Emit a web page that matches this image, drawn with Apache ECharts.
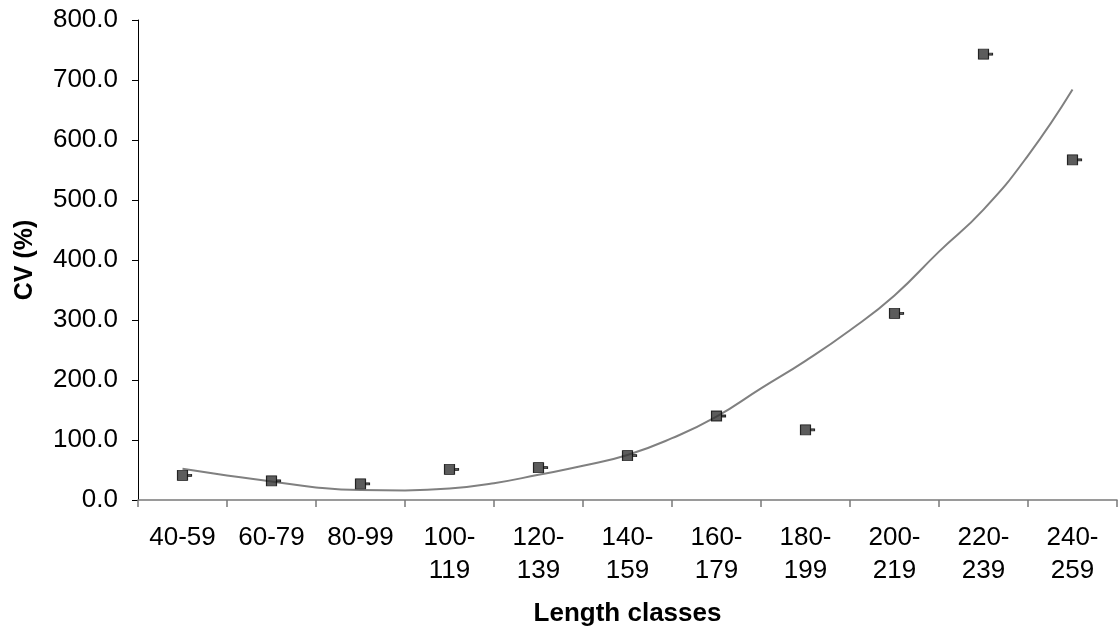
<!DOCTYPE html>
<html>
<head>
<meta charset="utf-8">
<script src="https://cdn.jsdelivr.net/npm/echarts@6/dist/echarts.min.js"></script>
<style>
  html, body { margin: 0; padding: 0; background: #fff; }
  #chart { width: 1118px; height: 632px; }
</style>
</head>
<body>
<div id="chart"></div>
<script>
// Length classes on the x axis
const lengthClasses = ['40-59', '60-79', '80-99', '100-\n119', '120-\n139', '140-\n159',
  '160-\n179', '180-\n199', '200-\n219', '220-\n239', '240-\n259'];

// Coefficient of variation (%) per length class
const cvValues = [41, 32, 27, 51, 54, 74, 140, 117, 311, 743, 567];

// Fitted trend curve, sampled every half class (class index, CV %)
const trendX = [0, 0.5, 1, 1.5, 2, 2.5, 3, 3.5, 4, 4.5, 5, 5.5, 6, 6.5, 7, 7.5, 8, 8.5, 9, 9.5, 10];
const trendY = [52, 41, 31, 21, 16.5, 16, 19, 28, 42, 57, 75, 103, 139, 186, 232, 283, 341, 414, 484, 574, 684];

// Y-axis ticks
const yMin = 0, yMax = 800, yStep = 100;

const FONT = '"Liberation Sans", Arial, sans-serif';

const chart = echarts.init(document.getElementById('chart'), null, { renderer: 'canvas' });

chart.setOption({
  animation: false,
  backgroundColor: '#ffffff',
  grid: { left: 138, right: 1, top: 20, bottom: 128, containLabel: false },
  xAxis: [
    {
      type: 'category',
      data: lengthClasses,
      boundaryGap: true,
      name: 'Length classes',
      nameLocation: 'middle',
      nameGap: 101,
      nameTextStyle: { fontFamily: FONT, fontSize: 26, fontWeight: 'bold', color: '#000' },
      axisLine: { onZero: false, lineStyle: { color: '#7a7a7a', width: 1.5 } },
      axisTick: { show: true, length: 7, alignWithLabel: false, lineStyle: { color: '#7a7a7a', width: 1.5 } },
      axisLabel: {
        interval: 0, margin: 21, color: '#000',
        fontFamily: FONT, fontSize: 26, lineHeight: 33
      },
      splitLine: { show: false }
    },
    {
      type: 'value',
      min: -0.5,
      max: 10.5,
      show: false,
      axisLine: { onZero: false }
    }
  ],
  yAxis: {
    type: 'value',
    min: yMin,
    max: yMax,
    interval: yStep,
    name: 'CV (%)',
    nameLocation: 'middle',
    nameGap: 100,
    nameTextStyle: { fontFamily: FONT, fontSize: 25, fontWeight: 'bold', color: '#000' },
    axisLine: { show: true, onZero: false, lineStyle: { color: '#000', width: 1 } },
    axisTick: { show: true, length: 6, lineStyle: { color: '#000' } },
    axisLabel: {
      margin: 20, color: '#000', fontFamily: FONT, fontSize: 26,
      formatter: v => v.toFixed(1)
    },
    splitLine: { show: false }
  },
  series: [
    {
      name: 'Trend',
      type: 'line',
      xAxisIndex: 1,
      data: trendX.map((x, i) => [x, trendY[i]]),
      smooth: true,
      showSymbol: false,
      symbol: 'none',
      lineStyle: { color: '#808080', width: 2 },
      z: 2
    },
    {
      name: 'CV',
      type: 'scatter',
      xAxisIndex: 0,
      data: cvValues,
      // square marker with a short dash on its right side
      symbol: 'path://M0 0H10V10H0Z M10 4H14V6H10Z',
      symbolSize: [14, 10],
      symbolOffset: [2, 0],
      symbolKeepAspect: false,
      itemStyle: { color: '#333333', borderColor: '#000000', borderWidth: 1 },
      z: 3
    }
  ]
});
</script>
</body>
</html>
